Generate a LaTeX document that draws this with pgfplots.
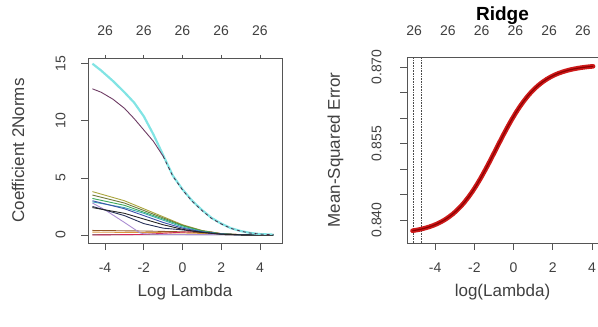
\documentclass[border=0pt]{standalone}
\usepackage{pgfplots}
\pgfplotsset{compat=1.18}
\usepackage{fontspec}
\setmainfont{Liberation Sans}
\definecolor{axgray}{RGB}{85,85,85}
\definecolor{cyanL}{RGB}{130,228,228}
\definecolor{purp}{RGB}{110,60,100}
\definecolor{oliv}{RGB}{170,165,60}
\definecolor{brgr}{RGB}{110,120,60}
\definecolor{grn}{RGB}{60,170,90}
\definecolor{blu}{RGB}{60,80,170}
\definecolor{teal2}{RGB}{60,170,180}
\definecolor{navy2}{RGB}{40,50,90}
\definecolor{lav}{RGB}{170,140,210}
\definecolor{pinkred}{RGB}{210,40,90}
\definecolor{brn}{RGB}{150,90,40}
\definecolor{orng}{RGB}{220,150,60}
\definecolor{rred}{RGB}{205,25,25}
\pgfplotsset{
  rstyle/.style={
    scale only axis,
    axis line style={axgray, line width=0.8pt},
    tick style={axgray, line width=0.8pt},
    major tick length=7pt,
    tick align=outside,
    ticklabel style={font=\fontsize{14}{16}\selectfont, text=black!75},
    label style={font=\fontsize{17}{19}\selectfont, text=black!75},
    /pgf/number format/assume math mode=true,
  }
}
\begin{document}
\begin{tikzpicture}
\useasboundingbox (0pt,0pt) rectangle (598pt,327pt);
\clip (0pt,0pt) rectangle (598pt,327pt);
% ---------------- left panel ----------------
\begin{axis}[rstyle,
  at={(88pt,84pt)}, anchor=south west, width=194pt, height=185pt,
  xmin=-4.88, xmax=5.14, ymin=-0.7, ymax=15.5,
  xtick={-4,-2,0,2,4}, ytick={0,5,10,15},
  xtick pos=bottom, ytick pos=left,
  yticklabel style={rotate=90, anchor=south, yshift=12pt},
  xticklabel style={yshift=-9pt},
  xlabel={Log Lambda}, ylabel={Coefficient 2Norms},
  xlabel style={at={(axis description cs:0.5,-0.265)}, anchor=center},
  ylabel style={at={(axis description cs:-0.36,0.5)}, anchor=center},
]
\addplot[brn, line width=0.9pt] coordinates {(-4.65,0.4) (-2,0.35) (0,0.28) (1,0.2) (2,0.08) (3,0.02) (4.7,0)};
\addplot[orng, line width=0.9pt] coordinates {(-4.65,0.25) (-2,0.22) (0,0.18) (1,0.14) (2,0.06) (3,0.02) (4.7,0)};
\addplot[black!80, line width=0.7pt] coordinates {(-4.65,0.02) (0,0.02) (2,0.01) (4.7,0)};
\addplot[pinkred, line width=0.9pt] coordinates {(-4.65,0.0) (-2,0.05) (0,0.25) (1,0.32) (1.5,0.25) (2,0.12) (3,0.03) (4.7,0)};
\addplot[lav, line width=0.9pt] coordinates {(-4.65,2.8) (-4,2.2) (-3,1.1) (-2.2,0.2) (-2,0.1) (-1,0.05) (4.7,0)};
\addplot[oliv, line width=0.9pt] coordinates {(-4.65,3.8) (-3,3.0) (-2,2.3) (-1,1.6) (0,0.9) (1,0.4) (2,0.12) (3,0.03) (4.7,0)};
\addplot[brgr, line width=0.9pt] coordinates {(-4.65,3.5) (-3,2.8) (-2,2.15) (-1,1.5) (0,0.85) (1,0.38) (2,0.11) (3,0.03) (4.7,0)};
\addplot[grn, line width=0.9pt] coordinates {(-4.65,3.2) (-3,2.6) (-2,2.0) (-1,1.4) (0,0.8) (1,0.35) (2,0.1) (3,0.02) (4.7,0)};
\addplot[teal2, line width=0.9pt] coordinates {(-4.65,2.9) (-3,2.4) (-2,1.9) (-1,1.3) (0,0.7) (1,0.3) (2,0.09) (3,0.02) (4.7,0)};
\addplot[blu, line width=0.9pt] coordinates {(-4.65,3.0) (-3,2.3) (-2,1.7) (-1,1.1) (0,0.6) (1,0.28) (2,0.08) (3,0.02) (4.7,0)};
\addplot[navy2, line width=0.9pt] coordinates {(-4.65,2.5) (-3,1.7) (-2,1.0) (-1,0.6) (0,0.45) (1,0.25) (2,0.08) (3,0.02) (4.7,0)};
\addplot[black!85, line width=0.9pt] coordinates {(-4.65,2.4) (-3,1.9) (-2,1.4) (-1,0.9) (0,0.5) (1,0.22) (2,0.07) (3,0.02) (4.7,0)};
\addplot[cyanL, line width=2.2pt] coordinates {(-4.65,15.0) (-4.2,14.4) (-3.6,13.5) (-3.0,12.5) (-2.5,11.6) (-2.0,10.4) (-1.5,8.8) (-1.0,7.0) (-0.5,5.2) (0,4.0) (0.5,3.0) (1.0,2.2) (1.5,1.5) (2.0,1.0) (2.5,0.6) (3.0,0.35) (3.5,0.18) (4.0,0.08) (4.7,0.03)};
\addplot[purp, line width=0.9pt] coordinates {(-4.65,12.8) (-4.2,12.5) (-3.6,11.9) (-3.0,11.1) (-2.5,10.2) (-2.0,9.2) (-1.5,8.2) (-1.0,6.9)};
\addplot[purp!70!black, line width=0.8pt, dash pattern=on 3pt off 3pt] coordinates {(-1.0,6.9) (-0.5,5.15) (0,3.95) (0.5,2.95) (1.0,2.15) (1.5,1.45) (2.0,0.97) (2.5,0.58) (3.0,0.34) (3.5,0.17) (4.0,0.08) (4.7,0.03)};
\addplot[black!75, line width=0.7pt] coordinates {(3.0,0) (4.7,0)};
\end{axis}
% top axis of left panel
\begin{axis}[rstyle,
  at={(88pt,84pt)}, anchor=south west, width=194pt, height=185pt,
  xmin=-4.88, xmax=5.14, ymin=-0.7, ymax=15.5,
  axis x line*=top, axis y line=none,
  xtick={-4,-2,0,2,4}, xticklabels={26,26,26,26,26},
  major tick length=3pt,
  xticklabel style={yshift=16pt},
]
\addplot[draw=none] coordinates {(0,0)};
\end{axis}
% ---------------- right panel ----------------
\begin{axis}[rstyle,
  at={(407pt,84pt)}, anchor=south west, width=191pt, height=186pt,
  xmin=-5.43, xmax=4.30, ymin=0.83549, ymax=0.87196,
  xtick={-4,-2,0,2,4},
  ytick={0.840,0.845,0.850,0.855,0.860,0.865,0.870},
  yticklabels={0.840,,,0.855,,,0.870},
  xtick pos=bottom, ytick pos=left,
  yticklabel style={rotate=90, anchor=south, yshift=15pt},
  xticklabel style={yshift=-9pt},
  xlabel={log(Lambda)}, ylabel={Mean-Squared Error},
  xlabel style={at={(axis description cs:0.5,-0.265)}, anchor=center},
  ylabel style={at={(axis description cs:-0.375,0.5)}, anchor=center},
  title={\textbf{Ridge}},
  title style={at={(axis description cs:0.5,1.19)}, anchor=center, font=\fontsize{19}{21}\selectfont\bfseries},
]
\addplot[black!70, densely dotted, line width=0.6pt] coordinates {(-5.12,0.83549) (-5.12,0.87196)};
\addplot[black!70, densely dotted, line width=0.6pt] coordinates {(-4.72,0.83549) (-4.72,0.87196)};
\addplot[rred, line width=4.6pt, line cap=round] coordinates {
(-5.15,0.83789) (-4.9,0.83806) (-4.7,0.83822) (-4.5,0.83842) (-4.3,0.83865) (-4.1,0.83892)
(-3.9,0.83924) (-3.7,0.83962) (-3.5,0.84006) (-3.3,0.84058) (-3.1,0.84117) (-2.9,0.84185)
(-2.7,0.84262) (-2.5,0.84350) (-2.3,0.84449) (-2.1,0.84557) (-1.9,0.84676) (-1.7,0.84805)
(-1.5,0.84942) (-1.3,0.85085) (-1.1,0.85234) (-0.9,0.85385) (-0.7,0.85536) (-0.5,0.85685)
(-0.3,0.85828) (-0.1,0.85965) (0.1,0.86094) (0.3,0.86213) (0.5,0.86321) (0.7,0.86420)
(0.9,0.86508) (1.1,0.86585) (1.3,0.86653) (1.5,0.86712) (1.7,0.86764) (1.9,0.86808)
(2.1,0.86846) (2.3,0.86878) (2.5,0.86905) (2.7,0.86928) (2.9,0.86948) (3.1,0.86964)
(3.3,0.86978) (3.5,0.86990) (3.7,0.87000) (3.9,0.87008) (4.05,0.87013)};
\addplot[red!55!black, line width=1.2pt] coordinates {
(-5.15,0.83789) (-4.9,0.83806) (-4.7,0.83822) (-4.5,0.83842) (-4.3,0.83865) (-4.1,0.83892)
(-3.9,0.83924) (-3.7,0.83962) (-3.5,0.84006) (-3.3,0.84058) (-3.1,0.84117) (-2.9,0.84185)
(-2.7,0.84262) (-2.5,0.84350) (-2.3,0.84449) (-2.1,0.84557) (-1.9,0.84676) (-1.7,0.84805)
(-1.5,0.84942) (-1.3,0.85085) (-1.1,0.85234) (-0.9,0.85385) (-0.7,0.85536) (-0.5,0.85685)
(-0.3,0.85828) (-0.1,0.85965) (0.1,0.86094) (0.3,0.86213) (0.5,0.86321) (0.7,0.86420)
(0.9,0.86508) (1.1,0.86585) (1.3,0.86653) (1.5,0.86712) (1.7,0.86764) (1.9,0.86808)
(2.1,0.86846) (2.3,0.86878) (2.5,0.86905) (2.7,0.86928) (2.9,0.86948) (3.1,0.86964)
(3.3,0.86978) (3.5,0.86990) (3.7,0.87000) (3.9,0.87008) (4.05,0.87013)};
\end{axis}
% top labels of right panel (no tick marks)
\begin{axis}[rstyle,
  at={(407pt,84pt)}, anchor=south west, width=191pt, height=186pt,
  xmin=-5.43, xmax=4.30, ymin=0.83549, ymax=0.87196,
  axis x line*=top, axis y line=none,
  xtick={-5.07,-3.35,-1.63,0.09,1.81,3.53}, xticklabels={26,26,26,26,26,26},
  major tick length=0pt,
  xticklabel style={yshift=18pt},
]
\addplot[draw=none] coordinates {(0,0.85)};
\end{axis}
\end{tikzpicture}
\end{document}
